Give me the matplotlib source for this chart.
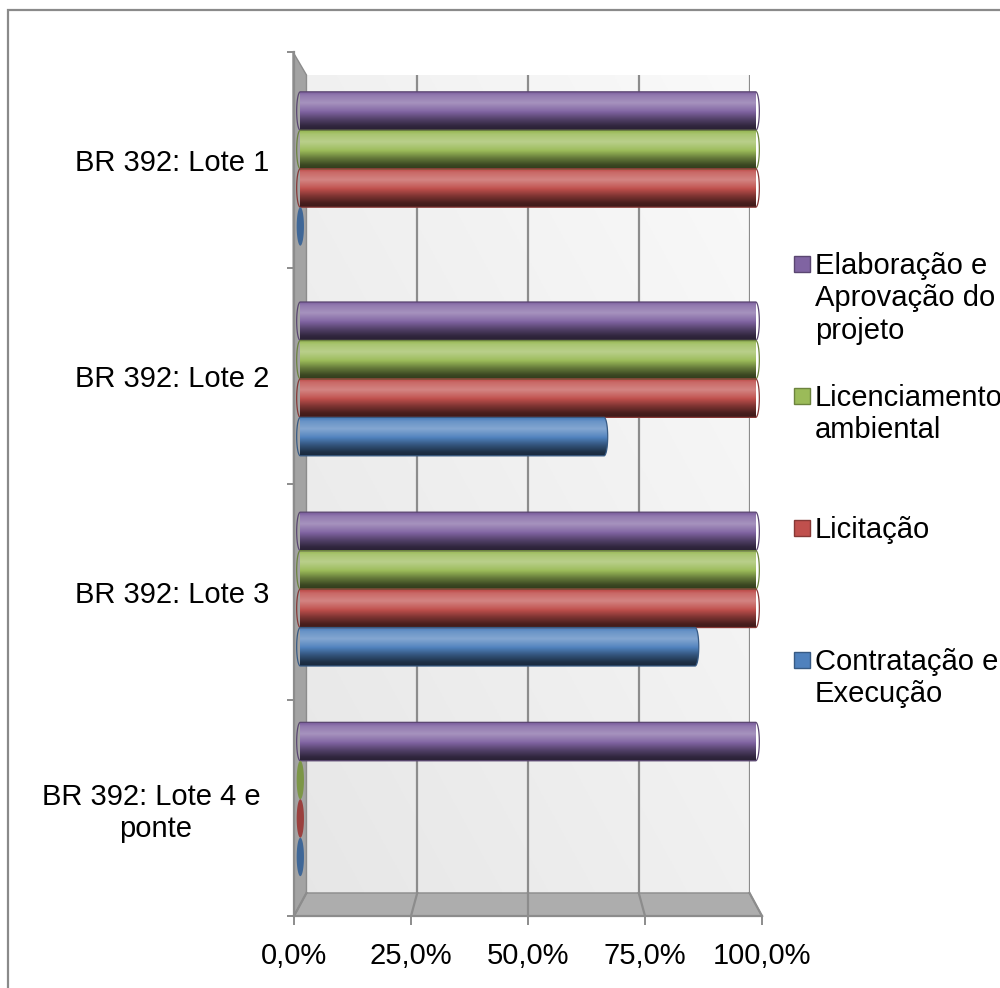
import numpy as np
import matplotlib
matplotlib.use("Agg")
import matplotlib.pyplot as plt
from matplotlib.patches import Polygon, Rectangle
from matplotlib.lines import Line2D
from matplotlib.colors import to_rgb

# ---- data -------------------------------------------------------------
categories = ["BR 392: Lote 1", "BR 392: Lote 2", "BR 392: Lote 3",
              "BR 392: Lote 4 e \nponte"]
series = ["Elaboração e\nAprovação do\nprojeto", "Licenciamento\nambiental",
          "Licitação", "Contratação e\nExecução"]
elaboracao = [100.0, 100.0, 100.0, 100.0]
licenciamento = [100.0, 100.0, 100.0, 0.0]
licitacao = [100.0, 100.0, 100.0, 0.0]
contratacao = [0.0, 66.7, 86.7, 0.0]
values = [elaboracao, licenciamento, licitacao, contratacao]
xticks = [0, 25, 50, 75, 100]
xticklabels = ["0,0%", "25,0%", "50,0%", "75,0%", "100,0%"]
colors = ["#8064A2", "#9BBB59", "#C0504D", "#4F81BD"]

plt.rcParams["font.family"] = ["Liberation Sans", "DejaVu Sans"]
FS = 21
GRID = "#8c8c8c"

W, H = 1000, 988
fig = plt.figure(figsize=(W / 100, H / 100), dpi=100)


def fx(x):
    return x / W


def fy(y):
    return 1 - y / H


def rect(x0, y0, x1, y1):
    return [fx(x0), fy(y1), (x1 - x0) / W, (y1 - y0) / H]


# front plane of the 3-D box (pixels, top-left origin)
FX0, FX1, FY0, FY1 = 294, 762, 52, 916
CX, CY = (FX0 + FX1) / 2, (FY0 + FY1) / 2


def plane(scale):
    hw, hh = (FX1 - FX0) / 2 * scale, (FY1 - FY0) / 2 * scale
    return CX - hw, CY - hh, CX + hw, CY + hh


BACK, MID = 0.9467, 0.973
bx0, by0, bx1, by1 = plane(BACK)

# ---- back wall --------------------------------------------------------
ax_back = fig.add_axes(rect(bx0, by0, bx1, by1), zorder=0)
gx, gy = np.meshgrid(np.linspace(0, 1, 200), np.linspace(0, 1, 200))
shade = 0.905 + 0.075 * (gx + (1 - gy)) / 2
wall = np.dstack([shade, shade, shade])
ax_back.imshow(wall, extent=(0, 1, 0, 1), transform=ax_back.transAxes,
               aspect="auto", origin="upper", zorder=0)
ax_back.set_xlim(0, 100)
ax_back.set_ylim(0, 1)
for t in xticks[1:]:
    ax_back.axvline(t, color=GRID, lw=1.6, zorder=1)
ax_back.axis("off")

# ---- side wall and floor ---------------------------------------------
side = Polygon([(fx(FX0 - 1), fy(FY0)), (fx(bx0), fy(by0)), (fx(bx0), fy(by1)),
                (fx(FX0), fy(FY1))], closed=True, transform=fig.transFigure,
               facecolor="#a3a3a3", edgecolor=GRID, lw=1.0, zorder=0.5)
floor = Polygon([(fx(FX0), fy(FY1)), (fx(bx0), fy(by1)), (fx(bx1), fy(by1)),
                 (fx(FX1), fy(FY1))], closed=True, transform=fig.transFigure,
                facecolor="#adadad", edgecolor=GRID, lw=1.0, zorder=0.5)
fig.patches.extend([side, floor])
for t in xticks:
    xb = bx0 + t / 100 * (bx1 - bx0)
    xf = FX0 + t / 100 * (FX1 - FX0)
    fig.lines.append(Line2D([fx(xb), fx(xf)], [fy(by1), fy(FY1)],
                            transform=fig.transFigure, color=GRID, lw=1.6,
                            zorder=0.6))

# ---- front axes: spines, ticks, labels --------------------------------
ax = fig.add_axes(rect(FX0, FY0, FX1, FY1), zorder=1)
ax.patch.set_alpha(0)
ax.set_xlim(0, 100)
ax.set_ylim(len(categories), 0)
for s in ("top", "right"):
    ax.spines[s].set_visible(False)
for s in ("left", "bottom"):
    ax.spines[s].set_color(GRID)
    ax.spines[s].set_linewidth(1.6)
ax.set_xticks(xticks)
ax.set_xticklabels(xticklabels, fontsize=FS)
ax.tick_params(axis="x", length=6.5, width=1.4, color=GRID, pad=12)
ax.set_yticks(np.arange(len(categories) + 1))
ax.set_yticklabels([])
ax.tick_params(axis="y", which="major", length=5, width=1.4, color=GRID)
ax.set_yticks(np.arange(len(categories)) + 0.5, minor=True)
ax.set_yticklabels(categories, minor=True, fontsize=FS, multialignment="center")
ax.tick_params(axis="y", which="minor", length=0, pad=18)

# ---- cylinder bars ----------------------------------------------------
ax_bar = fig.add_axes(rect(*plane(MID)), zorder=2)
ax_bar.patch.set_alpha(0)
ax_bar.set_xlim(0, 100)
ax_bar.set_ylim(len(categories), 0)
ax_bar.axis("off")

prof_v = [0.0, 0.1, 0.3, 0.5, 0.72, 0.9, 1.0]
prof_f = [-0.08, 0.14, 0.3, 0.05, -0.35, -0.62, -0.68]


def tone(c, f):
    c = np.asarray(c)
    return c + (1 - c) * f if f >= 0 else c * (1 + f)


def gradient(color, n=96):
    base = to_rgb(color)
    v = np.linspace(0, 1, n)
    f = np.interp(v, prof_v, prof_f)
    col = np.array([tone(base, k) for k in f])
    return np.repeat(col[:, None, :], 2, axis=1)


step = 0.183
rx = 0.8
tt = np.linspace(-np.pi / 2, np.pi / 2, 48)
for i in range(len(categories)):
    for j, (vals, color) in enumerate(zip(values, colors)):
        v = vals[i]
        yc = i + 0.5 + (j - 1.5) * step
        h = step
        right = np.column_stack([v + rx * np.cos(tt), yc + h / 2 * np.sin(tt)])
        left = np.column_stack([-rx * np.cos(tt[::-1]),
                                yc + h / 2 * np.sin(tt[::-1])])
        verts = np.vstack([right, left])
        edge = tone(to_rgb(color), -0.3)
        if v > 0:
            outline = Polygon(verts, closed=True, facecolor="none",
                              edgecolor=edge, lw=0.9, zorder=3, clip_on=False)
            ax_bar.add_patch(outline)
            img = ax_bar.imshow(gradient(color),
                                extent=(-rx, v + rx, yc + h / 2, yc - h / 2),
                                origin="upper", aspect="auto",
                                interpolation="bilinear", zorder=2)
            img.set_clip_box(None)
            img.set_clip_path(outline)
        else:
            ax_bar.add_patch(Polygon(verts, closed=True,
                                     facecolor=tone(to_rgb(color), -0.2),
                                     edgecolor="none", zorder=3, clip_on=False))
ax_bar.set_xlim(0, 100)
ax_bar.set_ylim(len(categories), 0)

# ---- legend -----------------------------------------------------------
for k, (name, color) in enumerate(zip(series, colors)):
    yc = 264 + 132 * k
    fig.patches.append(Rectangle((fx(794), fy(yc + 8)), 16 / W, 16 / H,
                                 transform=fig.transFigure, facecolor=color,
                                 edgecolor=tone(to_rgb(color), -0.3), lw=1.0,
                                 zorder=3))
    fig.text(fx(815), fy(yc - 12), name, fontsize=FS, va="top", ha="left",
             zorder=3)

# ---- chart border -----------------------------------------------------
fig.patches.append(Rectangle((fx(7.5), fy(1100)), 1.2, (1100 - 10.5) / H,
                             transform=fig.transFigure, facecolor="none",
                             edgecolor="#8a8a8a", lw=1.6, zorder=4))

fig.savefig("out.png", dpi=100)
